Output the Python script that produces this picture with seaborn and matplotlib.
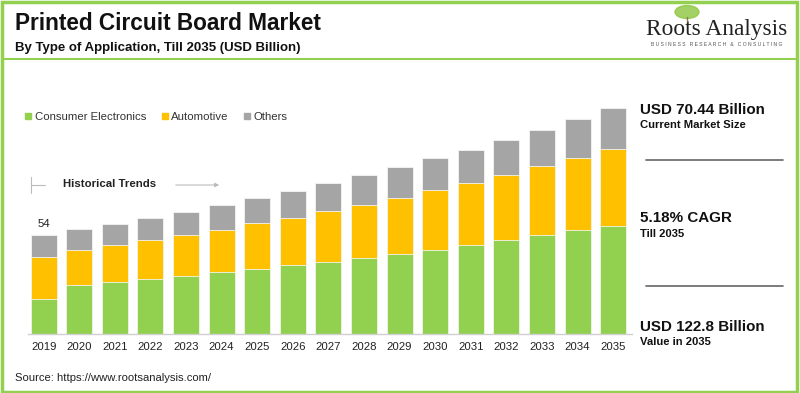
import numpy as np
import pandas as pd
import seaborn as sns
import matplotlib.pyplot as plt
from matplotlib.lines import Line2D
from matplotlib.patches import Rectangle, Ellipse

sns.set_theme(style="white")
plt.rcParams['font.family'] = ['Liberation Sans', 'DejaVu Sans']

# --- data (USD billion) ---
years = [str(y) for y in range(2019, 2036)]
consumer = [19.1, 26.7, 28.3, 29.9, 31.6, 33.6, 35.4, 37.4, 39.2, 41.2, 43.4, 45.7, 48.3, 51.0, 53.7, 56.6, 59.0]
automotive = [22.8, 19.1, 20.0, 21.1, 22.3, 23.2, 24.9, 25.7, 27.6, 29.0, 30.5, 32.5, 33.8, 35.5, 37.6, 39.4, 41.6]
others = [12.1, 11.3, 11.8, 12.1, 12.7, 13.6, 13.8, 14.5, 15.4, 16.2, 16.9, 17.4, 18.3, 19.2, 19.9, 21.1, 22.2]
series_names = ['Consumer Electronics', 'Automotive', 'Others']
colors = ['#92D050', '#FFC000', '#A5A5A5']

df = pd.DataFrame({'year': years, 'Consumer Electronics': consumer,
                   'Automotive': automotive, 'Others': others})
df['cum_auto'] = df['Consumer Electronics'] + df['Automotive']
df['total'] = df['cum_auto'] + df['Others']

W, H = 800, 393
fig = plt.figure(figsize=(W / 100, H / 100), dpi=100)

def fx(x):
    return x / W

def fy(y):
    return 1 - y / H

ax = fig.add_axes([fx(28), fy(334), fx(604), 234 / H])

# stacked bars drawn as overlapping cumulative bars
for col, c in zip(['total', 'cum_auto', 'Consumer Electronics'], colors[::-1]):
    sns.barplot(data=df, x='year', y=col, color=c, width=0.73, ax=ax,
                edgecolor='#f4f4f0', linewidth=0.6, saturation=1)

ax.set_ylim(0, 234 / 1.837)
ax.set_xlim(-0.44, 16.53)
ax.set_xlabel('')
ax.set_ylabel('')
ax.set_yticks([])
for s in ['top', 'right', 'left']:
    ax.spines[s].set_visible(False)
ax.spines['bottom'].set_color('#d0d0d0')
ax.spines['bottom'].set_linewidth(1)
ax.tick_params(axis='x', length=0, labelsize=8.2, colors='#222222', pad=6)

ax.text(0, df['total'][0] + 3, f"{df['total'][0]:.0f}", ha='center', va='bottom',
        fontsize=8.2, color='#222222')

# legend
handles = [Line2D([], [], marker='s', linestyle='', markersize=4.5, color=c) for c in colors]
fig.legend(handles, series_names, loc='center left', bbox_to_anchor=(fx(13), fy(117)),
           ncol=3, frameon=False, fontsize=8.2, handletextpad=0.1, columnspacing=1.2,
           handlelength=0.9, labelcolor='#333333')

# historical trends marker
fig.text(fx(63), fy(184), 'Historical Trends', fontsize=8.2, fontweight='bold',
         color='#222222', va='center')
fig.add_artist(Line2D([fx(31), fx(31)], [fy(177), fy(193)], color='#bbbbbb', lw=0.8))
fig.add_artist(Line2D([fx(31), fx(45)], [fy(185), fy(185)], color='#bbbbbb', lw=0.8))
ax.annotate('', xy=(fx(222), fy(185)), xytext=(fx(173), fy(185)),
            xycoords='figure fraction',
            arrowprops=dict(arrowstyle='-|>', color='#bbbbbb', lw=0.8, mutation_scale=6))

# titles
fig.text(fx(15), fy(23), 'Printed Circuit Board Market', fontsize=16.3,
         fontweight='bold', color='#111111', va='center')
fig.text(fx(15), fy(48), 'By Type of Application, Till 2035 (USD Billion)', fontsize=9.55,
         fontweight='bold', color='#111111', va='center')

# logo
fig.add_artist(Ellipse((fx(687), fy(12)), 24 / W, 13 / H, color='#8cc63f', alpha=0.8))
fig.add_artist(Line2D([fx(687), fx(687)], [fy(17), fy(24)], color='#8a7a5a', lw=1))
fig.text(fx(717), fy(29), 'Roots Analysis', fontsize=16.8, family='Liberation Serif',
         color='#222222', ha='center', va='center')
fig.text(fx(717), fy(45), 'B U S I N E S S   R E S E A R C H   &   C O N S U L T I N G',
         fontsize=3.6, color='#555555', ha='center', va='center')

# right panel
fig.text(fx(640), fy(110), 'USD 70.44 Billion', fontsize=10.9, fontweight='bold',
         color='#111111', va='center')
fig.text(fx(640), fy(125), 'Current Market Size', fontsize=8.1, fontweight='bold',
         color='#111111', va='center')
fig.add_artist(Line2D([fx(646), fx(783)], [fy(160), fy(160)], color='#666666', lw=1.2))
fig.text(fx(640), fy(218), '5.18% CAGR', fontsize=10.9, fontweight='bold',
         color='#111111', va='center')
fig.text(fx(640), fy(234), 'Till 2035', fontsize=8.1, fontweight='bold',
         color='#111111', va='center')
fig.add_artist(Line2D([fx(646), fx(783)], [fy(286), fy(286)], color='#666666', lw=1.2))
fig.text(fx(640), fy(327), 'USD 122.8 Billion', fontsize=10.9, fontweight='bold',
         color='#111111', va='center')
fig.text(fx(640), fy(342), 'Value in 2035', fontsize=8.1, fontweight='bold',
         color='#111111', va='center')

# source
fig.text(fx(15), fy(378), 'Source: https://www.rootsanalysis.com/', fontsize=8.1,
         color='#222222', va='center')

# green frame and separator
fig.add_artist(Rectangle((fx(1.5), fy(391.5)), fx(795), (390) / H, fill=False,
                         edgecolor='#92D050', lw=2.5))
fig.add_artist(Line2D([fx(3), fx(797)], [fy(59), fy(59)], color='#92D050', lw=1.5))

fig.savefig('out.png', dpi=100)
